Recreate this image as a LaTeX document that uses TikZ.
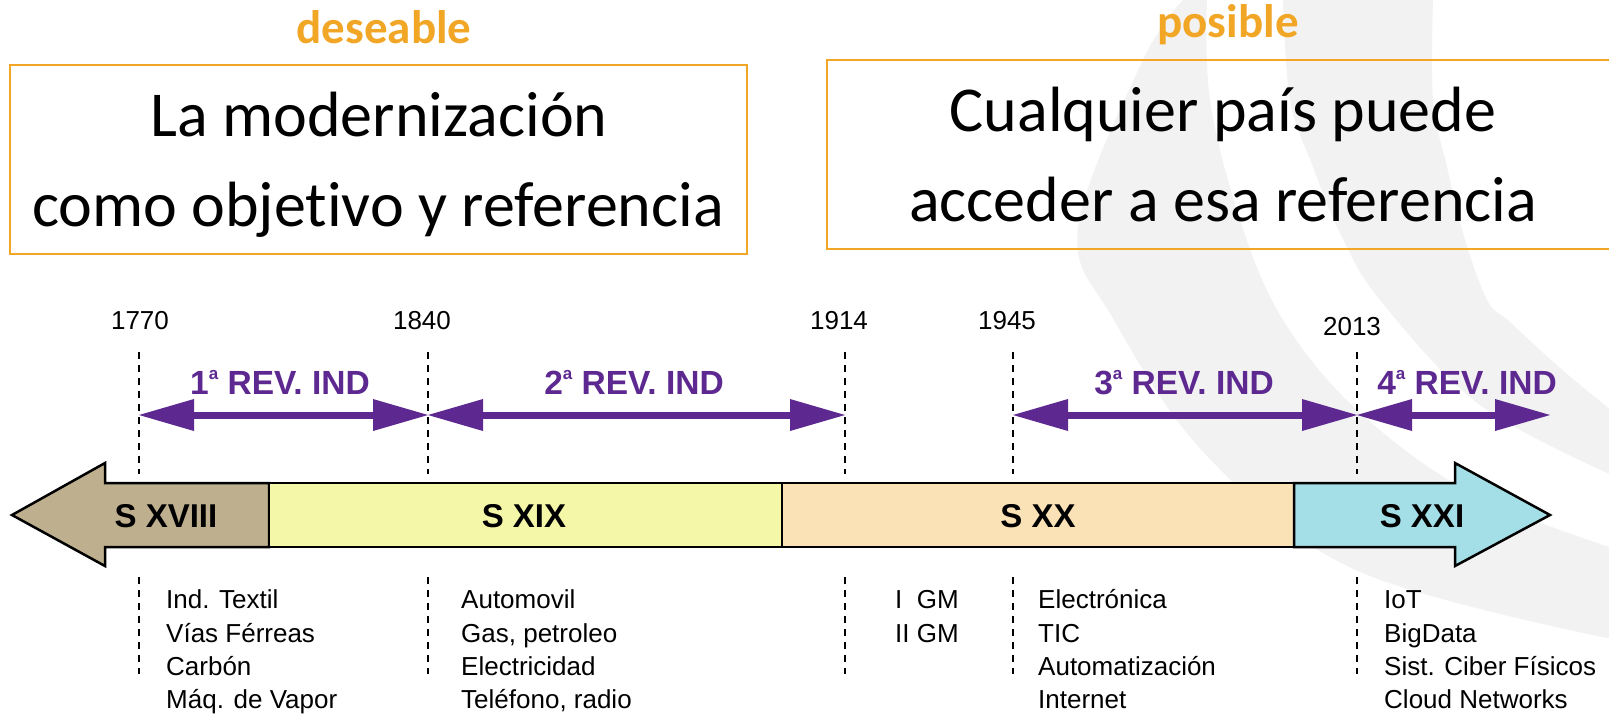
\documentclass[tikz,border=0pt]{standalone}
\usepackage{fontspec}
\setmainfont{Carlito}[Ligatures=NoCommon]
\newfontfamily\arialf{Liberation Sans}
\usetikzlibrary{arrows.meta}
\definecolor{orng}{RGB}{242,166,38}
\definecolor{purp}{RGB}{93,41,145}
\definecolor{tanc}{RGB}{190,176,142}
\definecolor{yelc}{RGB}{244,246,168}
\definecolor{peac}{RGB}{250,225,182}
\definecolor{cyac}{RGB}{164,222,230}
\definecolor{bgg}{RGB}{242,242,242}
\newcommand\ordA{\raisebox{15pt}{\fontsize{17}{17}\selectfont a}}
\begin{document}
\begin{tikzpicture}[x=1pt,y=-1pt,
  toplabel/.style={text=orng, font=\fontsize{47}{50}\selectfont\bfseries, inner sep=0pt, anchor=base},
  bigtext/.style={font=\fontsize{64}{70}\selectfont, inner sep=0pt, anchor=base},
  framebox/.style={draw=orng, line width=2pt},
  yearlbl/.style={font=\arialf\fontsize{26}{30}\selectfont, inner sep=0pt, anchor=base},
  revlbl/.style={text=purp, font=\arialf\bfseries\fontsize{33.5}{36}\selectfont, inner sep=0pt, anchor=base},
  revarrow/.style={draw=purp, line width=7pt,
     {Triangle[length=55pt,width=32pt,line width=0pt]}-{Triangle[length=55pt,width=32pt,line width=0pt]}},
  yearline/.style={draw=black, line width=1.5pt, dash pattern=on 7pt off 6pt},
  seg/.style={draw=black, line width=2.5pt, line join=miter},
  seglbl/.style={font=\arialf\bfseries\fontsize{33}{36}\selectfont, inner sep=0pt, anchor=base},
  item/.style={font=\arialf\fontsize{26}{30}\selectfont, inner sep=0pt, anchor=base west},
]
\useasboundingbox (0,0) rectangle (1609,713);
\fill[white] (0,0) rectangle (1609,713);

% background watermark bands
\begin{scope}
\clip (0,0) rectangle (1609,713);
\fill[bgg] plot[smooth, tension=0.6] coordinates {(1185,-2) (1143,60) (1078,228) (1114,320) (1208,457) (1358,571) (1612,639)}
  -- plot[smooth, tension=0.6] coordinates {(1612,548) (1471,493) (1358,411) (1283,320) (1240,220) (1210,100) (1207,-2)} -- cycle;
\fill[bgg] plot[smooth, tension=0.6] coordinates {(1283,-2) (1290,100) (1313,167) (1340,233) (1380,300) (1480,405) (1612,475)}
  -- plot[smooth, tension=0.6] coordinates {(1612,411) (1560,368) (1510,322) (1487,300) (1463,233) (1447,167) (1433,100) (1433,-2)} -- cycle;
\end{scope}

% top boxes
\node[toplabel] (des) at (384,43) {deseable};
\node[toplabel] (pos) at (1228,37) {posible};
\draw[framebox] (10,65) rectangle (747,254);
\draw[framebox] (1620,60) -- (827,60) -- (827,249) -- (1620,249);
\node[bigtext] (l1) at (379,136) {La modernización};
\node[bigtext] (l2) at (378,226) {como objetivo y referencia};
\node[bigtext] (r1) at (1223,131) {Cualquier país puede};
\node[bigtext] (r2) at (1223,221) {acceder a esa referencia};

% year lines
\foreach \n/\x in {a/139,b/428,c/845,d/1013,e/1357} {
  \coordinate (top\n) at (\x,352);
  \coordinate (mid\n) at (\x,474);
  \coordinate (low\n) at (\x,577);
  \coordinate (bot\n) at (\x,674);
  \coordinate (arr\n) at (\x,415);
  \draw[yearline] (top\n) -- (mid\n);
  \draw[yearline] (low\n) -- (bot\n);
}
\coordinate (arrf) at (1550,415);

\node[yearlbl] (y1770) at (140,329.5) {1770};
\node[yearlbl] (y1840) at (422,329.5) {1840};
\node[yearlbl] (y1914) at (839,329.5) {1914};
\node[yearlbl] (y1945) at (1007,329.5) {1945};
\node[yearlbl] (y2013) at (1352,335.5) {2013};

% revolutions
\draw[revarrow] (arra) -- (arrb);
\draw[revarrow] (arrb) -- (arrc);
\draw[revarrow] (arrd) -- (arre);
\draw[revarrow] (arre) -- (arrf);
\node[revlbl] (rev1) at (280,394) {1\ordA\ REV. IND};
\node[revlbl] (rev2) at (634,394) {2\ordA\ REV. IND};
\node[revlbl] (rev3) at (1184,394) {3\ordA\ REV. IND};
\node[revlbl] (rev4) at (1467,394) {4\ordA\ REV. IND};

% main timeline arrow
\filldraw[seg, fill=tanc] (12,515) -- (105,463) -- (105,483) -- (269,483) -- (269,547) -- (105,547) -- (105,566) -- cycle;
\filldraw[seg, fill=yelc] (269,483) rectangle (782,547);
\filldraw[seg, fill=peac] (782,483) rectangle (1294,547);
\filldraw[seg, fill=cyac] (1294,483) -- (1455,483) -- (1455,463) -- (1550,515) -- (1455,566) -- (1455,547) -- (1294,547) -- cycle;
\node[seglbl] (s18) at (166,527) {S XVIII};
\node[seglbl] (s19) at (524,527) {S XIX};
\node[seglbl] (s20) at (1038,527) {S XX};
\node[seglbl] (s21) at (1422,527) {S XXI};

% items
\node[item] (a1) at (166,608.5) {Ind. Textil};
\node[item] (a2) at (166,642) {Vías Férreas};
\node[item] (a3) at (166,675.5) {Carbón};
\node[item] (a4) at (166,708) {Máq. de Vapor};
\node[item] (b1) at (461,608.5) {Automovil};
\node[item] (b2) at (461,642) {Gas, petroleo};
\node[item] (b3) at (461,675.5) {Electricidad};
\node[item] (b4) at (461,708) {Teléfono, radio};
\node[item] (c1) at (895,608.5) {I\hphantom{I} GM};
\node[item] (c2) at (895,642) {II GM};
\node[item] (d1) at (1038,608.5) {Electrónica};
\node[item] (d2) at (1038,642) {TIC};
\node[item] (d3) at (1038,675.5) {Automatización};
\node[item] (d4) at (1038,708) {Internet};
\node[item] (e1) at (1384,608.5) {IoT};
\node[item] (e2) at (1384,642) {BigData};
\node[item] (e3) at (1384,675.5) {Sist. Ciber Físicos};
\node[item] (e4) at (1384,708) {Cloud Networks};
\end{tikzpicture}
\end{document}
